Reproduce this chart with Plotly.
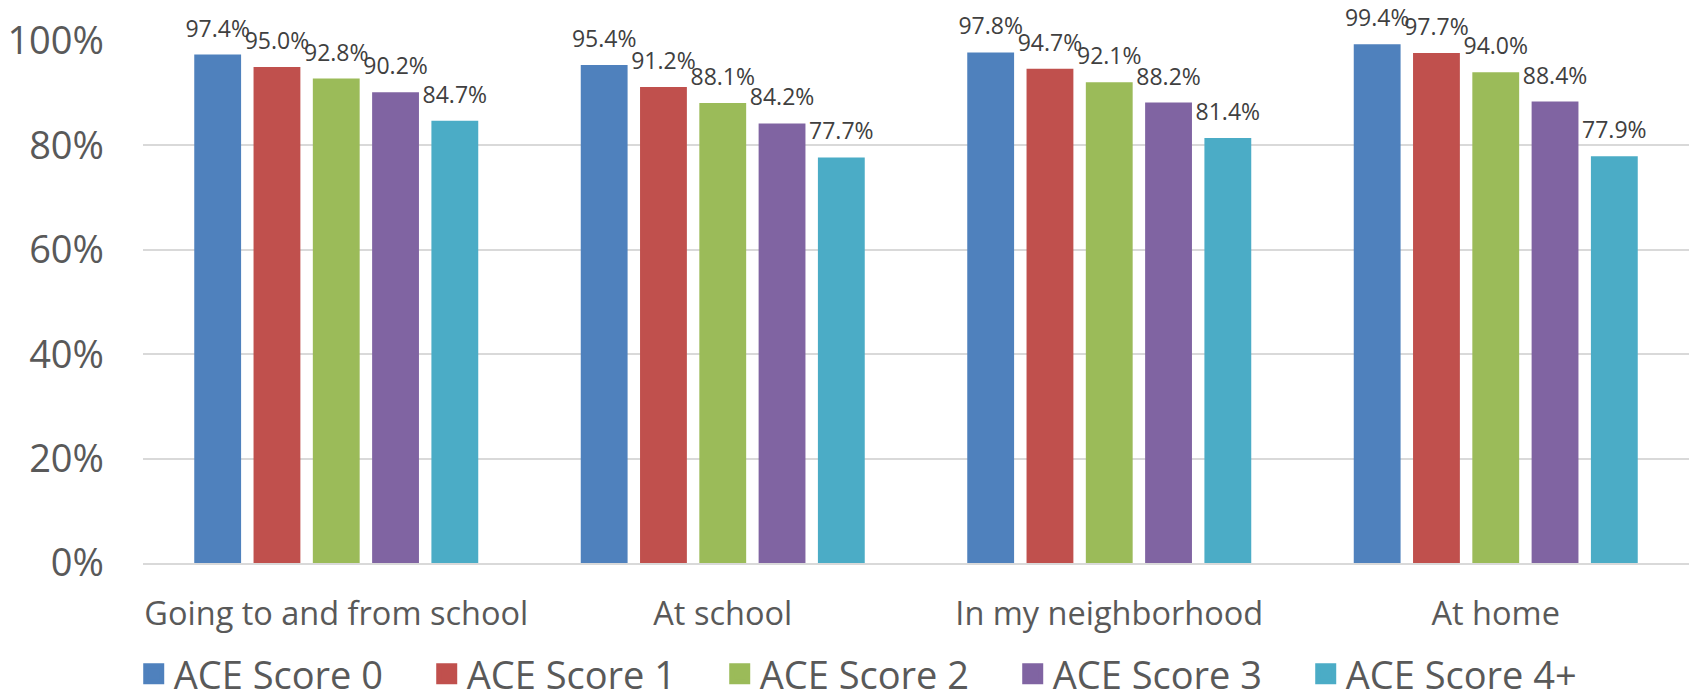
import plotly.graph_objects as go

# Where students report feeling safe, by ACE score
places = ["Going to and from school", "At school", "In my neighborhood", "At home"]
series_names = ["ACE Score 0", "ACE Score 1", "ACE Score 2", "ACE Score 3", "ACE Score 4+"]
ace0 = [0.974, 0.954, 0.978, 0.994]
ace1 = [0.950, 0.912, 0.947, 0.977]
ace2 = [0.928, 0.881, 0.921, 0.940]
ace3 = [0.902, 0.842, 0.882, 0.884]
ace4 = [0.847, 0.777, 0.814, 0.779]
series_values = [ace0, ace1, ace2, ace3, ace4]
colors = ["#4F81BD", "#C0504D", "#9BBB59", "#8064A2", "#4BACC6"]

FONT = "Open Sans"
GAP = 0.233

fig = go.Figure()

for i, (name, vals, col) in enumerate(zip(series_names, series_values, colors)):
    # bars
    fig.add_trace(go.Bar(
        x=places, y=vals, name=name, offsetgroup=str(i),
        marker=dict(color=col, line=dict(width=0)),
        showlegend=False, legendgroup=name,
    ))
    # value labels above each bar, grouped the same way as the bars
    fig.add_trace(go.Scatter(
        x=places, y=vals, mode="markers+text", offsetgroup=str(i),
        text=[f"{v * 100:.1f}%" for v in vals],
        textposition="top center",
        textfont=dict(family=FONT, size=23, color="#404040"),
        marker=dict(size=18, opacity=0, color=col),
        showlegend=False, legendgroup=name, hoverinfo="skip", cliponaxis=False,
    ))

# legend entries with large square swatches
for name, col in zip(series_names, colors):
    fig.add_trace(go.Scatter(
        x=[None], y=[None], mode="markers", name=name, legendgroup=name,
        marker=dict(symbol="square", size=16, color=col, line=dict(color=col, width=5)),
    ))

fig.update_layout(
    width=1694, height=700,
    margin=dict(l=143, r=5, t=41, b=137, autoexpand=False),
    paper_bgcolor="white", plot_bgcolor="white",
    barmode="group", bargap=GAP, bargroupgap=0.21,
    scattermode="group", scattergap=GAP,
    font=dict(family=FONT, color="#595959"),
    legend=dict(
        orientation="h", x=-0.006, xanchor="left",
        y=-0.273, yanchor="bottom",
        entrywidth=248, entrywidthmode="pixels",
        font=dict(family=FONT, size=38, color="#595959"),
        itemclick=False, itemdoubleclick=False,
    ),
    xaxis=dict(
        type="category",
        showgrid=False, showline=True, linecolor="#D9D9D9", linewidth=2,
        ticks="", tickfont=dict(family=FONT, size=32.5, color="#595959"),
        ticklabelstandoff=21,
    ),
    yaxis=dict(
        range=[0, 1], dtick=0.2, tickformat=".0%",
        showgrid=True, gridcolor="#D9D9D9", gridwidth=2,
        zeroline=False, showline=False, ticks="",
        tickfont=dict(family=FONT, size=38, color="#595959"),
        ticklabelstandoff=38,
    ),
)

fig.write_html("out.html")
